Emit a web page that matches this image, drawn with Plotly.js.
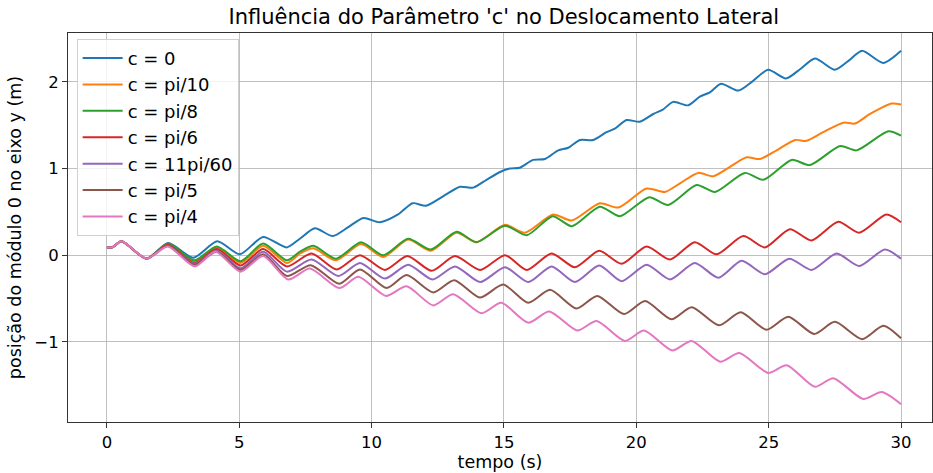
<!DOCTYPE html>
<html>
<head>
<meta charset="utf-8">
<script src="https://cdn.plot.ly/plotly-3.0.1.min.js"></script>
<style>html,body{margin:0;padding:0;background:#fff}#chart{width:933px;height:473px}</style>
</head>
<body>
<div id="chart"></div>
<script>
const seriesNames = ["c = 0", "c = pi/10", "c = pi/8", "c = pi/6", "c = 11pi/60", "c = pi/5", "c = pi/4"];
const seriesColors = ["#1f77b4", "#ff7f0e", "#2ca02c", "#d62728", "#9467bd", "#8c564b", "#e377c2"];

const tC0 = [0, 0.2, 0.55, 1.5, 2.32, 3.26, 4.17, 5.02, 5.9, 6.79, 7.29, 7.86, 8.53, 9.1, 9.69, 10.31, 11.0, 11.55, 12.05, 12.7, 13.34, 13.84, 14.34, 14.85, 15.22, 15.6, 16.1, 16.55, 17.05, 17.43, 17.87, 18.37, 18.87, 19.19, 19.63, 20.13, 20.64, 21.0, 21.39, 21.96, 22.4, 22.78, 23.2, 23.85, 24.4, 24.98, 25.65, 26.2, 26.75, 27.5, 28.0, 28.53, 29.33, 30];
const yC0 = [0.09, 0.09, 0.16, -0.04, 0.14, -0.03, 0.16, 0.01, 0.21, 0.09, 0.19, 0.31, 0.22, 0.32, 0.43, 0.38, 0.47, 0.60, 0.57, 0.68, 0.79, 0.78, 0.87, 0.96, 1.00, 1.01, 1.10, 1.11, 1.21, 1.24, 1.33, 1.33, 1.42, 1.46, 1.56, 1.54, 1.63, 1.68, 1.77, 1.73, 1.83, 1.88, 1.98, 1.90, 2.01, 2.14, 2.04, 2.15, 2.27, 2.14, 2.24, 2.36, 2.22, 2.36];

const tPi10 = [0, 0.2, 0.55, 1.5, 2.32, 3.3, 4.15, 5.05, 5.9, 6.8, 7.3, 7.8, 8.65, 9.6, 10.44, 11.38, 12.24, 13.21, 13.96, 15.04, 15.79, 16.86, 17.56, 18.62, 19.32, 20.39, 21.08, 21.65, 22.34, 22.9, 23.54, 24.17, 24.67, 25.3, 26.0, 26.43, 27.06, 27.82, 28.26, 28.83, 29.65, 30];
const yPi10 = [0.09, 0.09, 0.16, -0.04, 0.125, -0.07, 0.09, -0.09, 0.11, -0.09, 0.02, 0.08, -0.06, 0.13, -0.02, 0.18, 0.05, 0.26, 0.15, 0.35, 0.26, 0.47, 0.40, 0.60, 0.55, 0.77, 0.73, 0.83, 0.95, 0.91, 1.02, 1.13, 1.11, 1.21, 1.33, 1.32, 1.42, 1.53, 1.52, 1.63, 1.75, 1.74];

const tPi8 = [0, 0.2, 0.55, 1.5, 2.32, 3.3, 4.15, 5.05, 5.9, 6.8, 7.29, 7.8, 8.65, 9.6, 10.44, 11.38, 12.24, 13.21, 13.96, 15.04, 15.86, 16.84, 17.56, 18.62, 19.38, 20.49, 21.2, 22.28, 22.97, 24.1, 24.8, 25.87, 26.56, 27.7, 28.32, 29.52, 30];
const yPi8 = [0.09, 0.09, 0.16, -0.04, 0.135, -0.06, 0.10, -0.07, 0.135, -0.06, 0.04, 0.11, -0.04, 0.15, 0.0, 0.19, 0.065, 0.27, 0.15, 0.34, 0.23, 0.45, 0.335, 0.56, 0.45, 0.67, 0.58, 0.81, 0.73, 0.95, 0.87, 1.10, 1.04, 1.26, 1.21, 1.43, 1.38];

const tPi6 = [0, 0.2, 0.55, 1.5, 2.3, 3.3, 4.15, 5.05, 5.9, 6.8, 7.73, 8.68, 9.56, 10.5, 11.35, 12.27, 13.15, 14.1, 15.04, 15.86, 16.8, 17.68, 18.6, 19.44, 20.39, 21.27, 22.21, 23.03, 24.04, 24.86, 25.8, 26.62, 27.63, 28.42, 29.45, 30];
const yPi6 = [0.09, 0.09, 0.16, -0.04, 0.12, -0.09, 0.07, -0.12, 0.07, -0.13, 0.02, -0.165, 0.0, -0.17, -0.01, -0.18, -0.01, -0.17, 0.0, -0.17, 0.02, -0.14, 0.05, -0.10, 0.10, -0.05, 0.15, 0.01, 0.22, 0.09, 0.30, 0.17, 0.385, 0.26, 0.47, 0.38];

const t11Pi60 = [0, 0.2, 0.55, 1.5, 2.3, 3.3, 4.15, 5.05, 5.9, 6.8, 7.73, 8.74, 9.56, 10.5, 11.38, 12.3, 13.15, 14.1, 15.04, 15.92, 16.8, 17.68, 18.6, 19.44, 20.39, 21.27, 22.21, 23.1, 23.98, 24.86, 25.78, 26.62, 27.57, 28.42, 29.39, 30];
const y11Pi60 = [0.09, 0.09, 0.16, -0.04, 0.11, -0.10, 0.05, -0.15, 0.04, -0.19, -0.05, -0.24, -0.09, -0.27, -0.11, -0.28, -0.13, -0.31, -0.14, -0.31, -0.13, -0.31, -0.12, -0.30, -0.11, -0.28, -0.09, -0.26, -0.065, -0.22, -0.04, -0.17, 0.02, -0.125, 0.065, -0.04];

const tPi5 = [0, 0.2, 0.55, 1.5, 2.3, 3.3, 4.15, 5.05, 5.9, 6.8, 7.7, 8.78, 9.56, 10.57, 11.32, 12.33, 13.12, 14.09, 14.97, 15.92, 16.74, 17.74, 18.52, 19.54, 20.33, 21.33, 22.09, 23.13, 23.94, 24.92, 25.74, 26.72, 27.5, 28.53, 29.33, 30];
const yPi5 = [0.09, 0.09, 0.16, -0.04, 0.105, -0.11, 0.04, -0.17, 0.01, -0.24, -0.115, -0.33, -0.165, -0.38, -0.23, -0.43, -0.29, -0.49, -0.34, -0.55, -0.40, -0.615, -0.47, -0.68, -0.53, -0.74, -0.60, -0.81, -0.66, -0.86, -0.71, -0.91, -0.77, -0.97, -0.815, -0.96];

const tPi4 = [0, 0.2, 0.55, 1.5, 2.3, 3.32, 4.1, 5.05, 5.9, 6.85, 7.67, 8.78, 9.5, 10.54, 11.32, 12.33, 13.08, 14.15, 14.9, 15.92, 16.71, 17.77, 18.5, 19.57, 20.29, 21.36, 22.09, 23.17, 23.89, 24.98, 25.68, 26.75, 27.44, 28.57, 29.27, 30];
const yPi4 = [0.09, 0.09, 0.16, -0.04, 0.10, -0.13, 0.04, -0.19, -0.01, -0.28, -0.155, -0.38, -0.25, -0.47, -0.36, -0.58, -0.45, -0.67, -0.55, -0.78, -0.65, -0.87, -0.76, -0.99, -0.87, -1.10, -0.99, -1.23, -1.13, -1.36, -1.27, -1.52, -1.42, -1.66, -1.58, -1.72];

const xTicks = [0, 5, 10, 15, 20, 25, 30];
const yTicks = [-1, 0, 1, 2];
const yTickLabels = ["\u22121", "0", "1", "2"];

const tData = [tC0, tPi10, tPi8, tPi6, t11Pi60, tPi5, tPi4];
const yData = [yC0, yPi10, yPi8, yPi6, y11Pi60, yPi5, yPi4];

const traces = seriesNames.map((name, i) => ({
  x: tData[i], y: yData[i], name: name, type: 'scatter', mode: 'lines',
  legendgroup: 'g' + i,
  line: {color: seriesColors[i], width: 2, shape: 'spline', smoothing: 0.7}
}));

const font = 'DejaVu Sans, sans-serif';
const layout = {
  width: 933, height: 473,
  margin: {l: 68, r: 1, t: 33, b: 51},
  paper_bgcolor: '#fff', plot_bgcolor: '#fff',
  font: {family: font, color: '#000', size: 16.5},
  title: {text: "Influência do Parâmetro 'c' no Deslocamento Lateral", font: {family: font, size: 21, color: '#000'}, x: 0.54, xanchor: 'center', y: 0.98, yanchor: 'top'},
  xaxis: {
    range: [-1.47, 31.17], tickvals: xTicks, ticktext: xTicks.map(String),
    showgrid: true, gridcolor: '#b0b0b0', gridwidth: 0.8, zeroline: false,
    showline: true, linecolor: '#333', linewidth: 1, mirror: true,
    ticks: 'outside', ticklen: 5, tickcolor: '#333', tickfont: {size: 16.5},
    title: {text: 'tempo (s)', font: {size: 17.5}, standoff: 4}
  },
  yaxis: {
    range: [-1.926, 2.565], tickvals: yTicks, ticktext: yTickLabels,
    showgrid: true, gridcolor: '#b0b0b0', gridwidth: 0.8, zeroline: false,
    showline: true, linecolor: '#333', linewidth: 1, mirror: true,
    ticks: 'outside', ticklen: 5, tickcolor: '#333', tickfont: {size: 16.5},
    title: {text: 'posição do módulo 0 no eixo y (m)', font: {size: 17.5}, standoff: 8}
  },
  showlegend: true,
  legend: {
    x: 0.01, y: 0.985, xanchor: 'left', yanchor: 'top',
    bgcolor: 'rgba(255,255,255,0.8)', bordercolor: '#d0d0d0', borderwidth: 1,
    font: {family: font, size: 18, color: '#000'}, tracegroupgap: 0, itemwidth: 40
  }
};
Plotly.newPlot('chart', traces, layout, {displayModeBar: false, staticPlot: true});
</script>
</body>
</html>
